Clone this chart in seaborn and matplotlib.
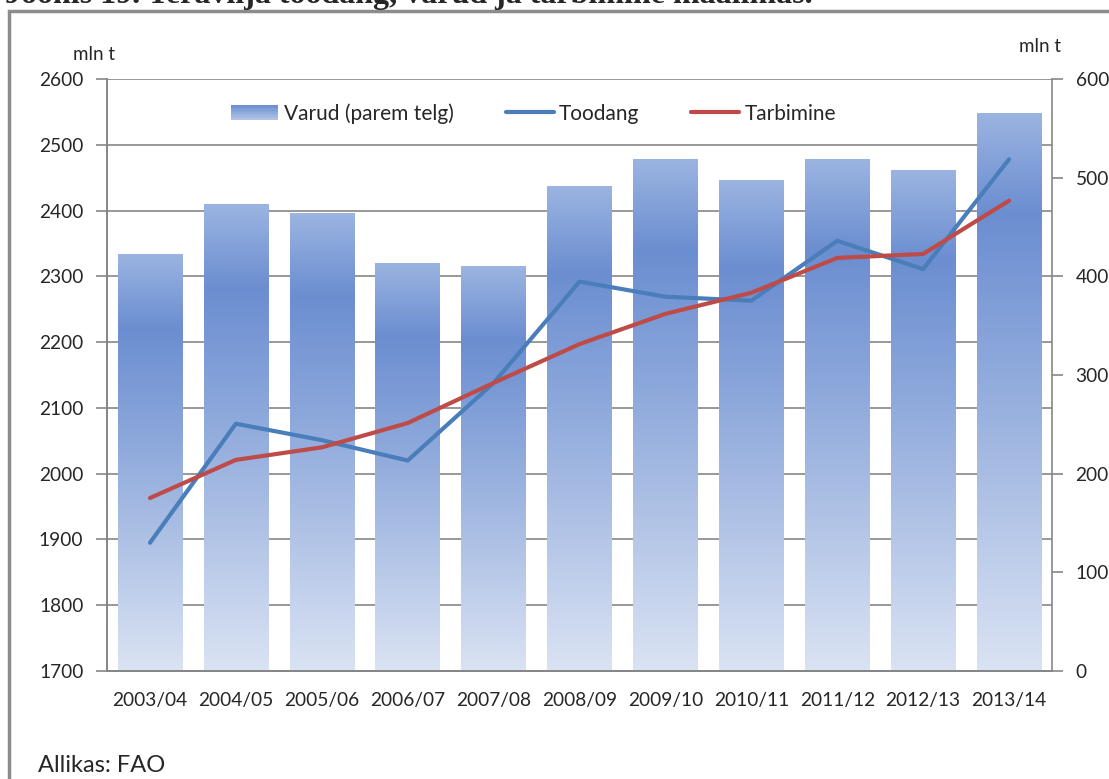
import numpy as np
import seaborn as sns
import matplotlib.pyplot as plt
from matplotlib.colors import LinearSegmentedColormap
from matplotlib.patches import Patch, Rectangle
from matplotlib.lines import Line2D
from matplotlib.legend_handler import HandlerBase

# Data
seasons = ['2003/04', '2004/05', '2005/06', '2006/07', '2007/08', '2008/09',
           '2009/10', '2010/11', '2011/12', '2012/13', '2013/14']
production = [1895, 2076, 2051, 2020, 2138, 2292, 2269, 2263, 2354, 2311, 2478]   # Toodang
consumption = [1963, 2021, 2040, 2077, 2138, 2197, 2243, 2275, 2328, 2334, 2415]  # Tarbimine
stocks = [423, 473, 464, 414, 410, 492, 519, 498, 519, 508, 566]                # Varud (right axis)

left_ticks = [1700, 1800, 1900, 2000, 2100, 2200, 2300, 2400, 2500, 2600]
right_ticks = [0, 100, 200, 300, 400, 500, 600]

sns.set_style('white')
plt.rcParams['font.family'] = ['Lato', 'DejaVu Sans']

grey = '#868686'
blue = '#4a7ebb'
red = '#be4b48'
bar_cmap = LinearSegmentedColormap.from_list(
    'bars', [(0.0, '#dae3f3'), (0.55, '#8da8db'), (0.82, '#6b8ed1'), (1.0, '#9bb4e1')])

fig = plt.figure(figsize=(11.09, 7.79), dpi=100)
fig.subplots_adjust(left=0.0965, right=0.9486, bottom=0.1386, top=0.8986)
ax = fig.add_subplot(111)
axb = ax.twinx()   # bars, right axis
axl = ax.twinx()   # lines, left scale

idx = list(range(len(seasons)))

# Bars with vertical gradient
sns.barplot(x=idx, y=stocks, ax=axb, width=0.75, color='#8da8db')
grad = np.linspace(0, 1, 256).reshape(-1, 1)
for p in axb.patches:
    x0, w, h = p.get_x(), p.get_width(), p.get_height()
    p.set_facecolor('none')
    p.set_edgecolor('none')
    im = axb.imshow(grad, cmap=bar_cmap, origin='lower', aspect='auto',
                    extent=[x0, x0 + w, 0, h], interpolation='bilinear')
    im.set_clip_path(p)

# Lines
sns.lineplot(x=idx, y=production, ax=axl, color=blue, linewidth=3)
sns.lineplot(x=idx, y=consumption, ax=axl, color=red, linewidth=3)

# Left axis (ticks + grid)
ax.set_ylim(1700, 2600)
ax.set_yticks(left_ticks)
ax.grid(axis='y', color=grey, linewidth=1.2)
ax.set_axisbelow(True)
axl.set_ylim(1700, 2600)
axl.yaxis.set_visible(False)
axl.set_ylabel('')
axb.set_ylim(0, 600)
axb.set_yticks(right_ticks)
axb.set_ylabel('')

tick_fs = 13.8
ax.set_xlim(-0.5, len(seasons) - 0.5)
ax.set_xticks(idx, seasons)
ax.set_xticks([i - 0.5 for i in range(len(seasons) + 1)], minor=True)
ax.tick_params(axis='x', which='major', length=0, pad=15, labelsize=tick_fs)
ax.tick_params(axis='x', which='minor', length=8, width=1.2, color=grey, direction='out')
ax.tick_params(axis='y', length=8, width=1.2, color=grey, direction='out', pad=9, labelsize=tick_fs)
axb.tick_params(axis='y', length=8, width=1.2, color=grey, direction='out', pad=9, labelsize=tick_fs)

for a in (ax, axb, axl):
    for s in a.spines.values():
        s.set_color(grey)
        s.set_linewidth(1.2)
    a.spines['top'].set_visible(False)

ax.spines['right'].set_visible(False)
axl.spines['left'].set_visible(False)
axl.spines['right'].set_visible(False)


class GradientHandler(HandlerBase):
    def create_artists(self, legend, orig_handle, xdescent, ydescent,
                       width, height, fontsize, trans):
        n = 10
        arts = []
        for i in range(n):
            r = Rectangle((-xdescent, -ydescent + height * i / n), width, height / n,
                          facecolor=bar_cmap(0.3 + 0.5 * i / (n - 1)),
                          edgecolor='none', transform=trans)
            arts.append(r)
        return arts


handles = [Patch(label='Varud (parem telg)'),
           Line2D([], [], color=blue, linewidth=3, label='Toodang'),
           Line2D([], [], color=red, linewidth=3, label='Tarbimine')]
axl.legend(handles=handles, loc='center', bbox_to_anchor=(0.451, 0.942), ncol=3,
           frameon=False, fontsize=15, handlelength=2.3, handletextpad=0.25,
           columnspacing=2.5, handler_map={Patch: GradientHandler()})

# Texts around the chart
fig.text(94 / 1109, 1 - 55 / 779, 'mln t', ha='center', va='center', fontsize=13.5)
fig.text(1040 / 1109, 1 - 47 / 779, 'mln t', ha='center', va='center', fontsize=13.5)
fig.text(38 / 1109, 1 - 766 / 779, 'Allikas: FAO', ha='left', va='center', fontsize=17)
fig.text(5 / 1109, 1 - 3 / 779, 'Joonis 19. Teravilja toodang, varud ja tarbimine maailmas.',
         ha='left', va='baseline', fontsize=23, fontweight='bold', family='Liberation Serif')

# Outer frame
fig.patches.append(Rectangle((9 / 1109, -0.1), 2, 1 - 11 / 779 + 0.1, transform=fig.transFigure,
                             fill=False, edgecolor='#8c8c8c', linewidth=2.5))

plt.savefig('out.png', dpi=100)
